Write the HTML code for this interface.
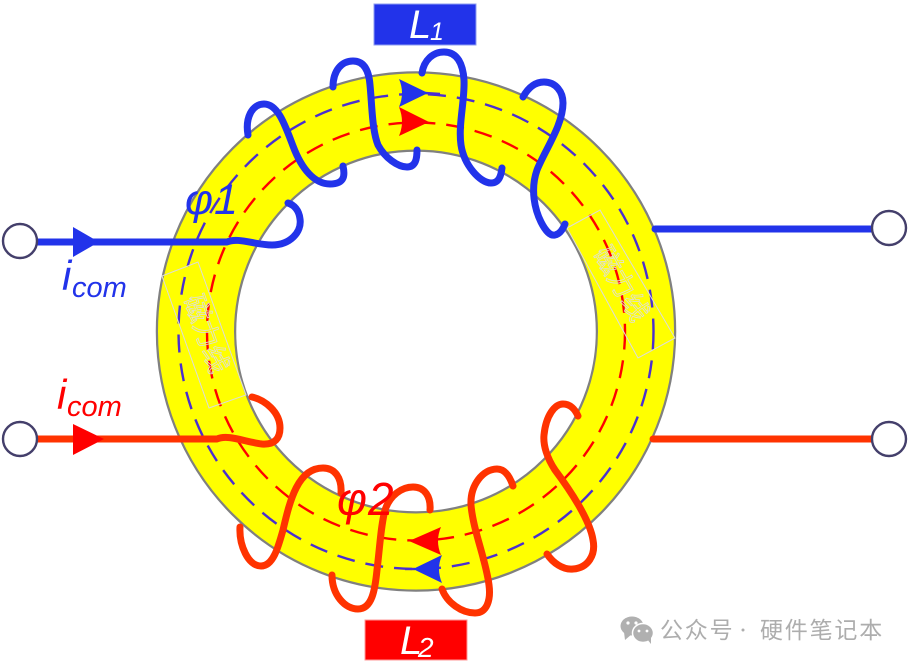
<!DOCTYPE html>
<html><head><meta charset="utf-8"><style>html,body{margin:0;padding:0;background:#fff}svg{display:block}</style></head><body>
<svg xmlns="http://www.w3.org/2000/svg" width="912" height="665" viewBox="0 0 912 665">
<circle cx="416" cy="331.5" r="220" fill="none" stroke="#808080" stroke-width="80.5"/>
<circle cx="416" cy="331.5" r="220" fill="none" stroke="#ffff00" stroke-width="76"/>
<circle cx="416" cy="331.5" r="237.5" fill="none" stroke="#4a2fd0" stroke-width="2.4" stroke-dasharray="18 11"/>
<circle cx="416" cy="331.5" r="209" fill="none" stroke="#ff0000" stroke-width="2.4" stroke-dasharray="18 11"/>
<g fill="none" stroke="#dcdcdc" stroke-width="1">
<polygon points="162,276 198,262 246,395 209,408"/>
<polygon points="567,228 600,210 675,338 638,358"/>
</g>
<g font-family="'Liberation Sans','Noto Sans CJK SC',sans-serif" font-size="27" fill="none" stroke="#dedede" stroke-width=".8" text-anchor="middle">
<text transform="translate(206,334) rotate(70)" y="9">磁力线</text>
<text transform="translate(621,284) rotate(60)" y="9">磁力线</text>
</g>
<g stroke-width="2.4" fill="none">
<path d="M425,93 L440,94" stroke="#4a2fd0"/>
<path d="M415,569 L405,569" stroke="#4a2fd0"/>
</g>
<g fill="#2233ea">
<path d="M399,79 L428,93 L399,107 Q405,93 399,79Z"/>
<path d="M442,555 L413,569 L442,583 Q436,569 442,555Z"/>
</g>
<g fill="#ff0000">
<path d="M399,107 L429,122 L399,136 Q405,122 399,107Z"/>
<path d="M441,527 L409,541 L441,555 Q435,541 441,527Z"/>
</g>
<g fill="none" stroke="#2233ea" stroke-width="7" stroke-linecap="round" stroke-linejoin="round">
<path d="M38,242 L227,242 C238,237 255,245 272,245 C290,245 302,232 300,219 C299,210 294,205 288,203"/>
<path d="M248,135 C245,118 252,104 264,104 C278,104 285,125 293,146 C302,170 315,184 330,184 C345,184 345,175 343,166"/>
<path d="M333,87 C333,70 342,61 353,61 C365,61 369,72 370,85 C372,105 372,130 378,145 C385,158 398,167 407,167 C416,167 417,158 417,150"/>
<path d="M422,73 C424,60 433,52 444,52 C458,52 463,65 464,80 C465,100 458,125 461,145 C464,165 480,183 491,183 C499,183 501,176 502,168"/>
<path d="M523,97 C528,88 535,82 544,82 C556,82 563,92 563,103 C563,125 545,150 537,170 C530,190 535,210 541,222 C546,232 551,236 555,235 C560,234 563,229 565,224"/>
<path d="M655,229 L873,229"/>
</g>
<g fill="none" stroke="#ff3300" stroke-width="7" stroke-linecap="round" stroke-linejoin="round">
<path d="M38,439 L217,439 C228,434 245,442 262,444 C275,445 280,438 280,428 C280,412 265,400 252,397"/>
<path d="M240,527 C239,545 248,566 261,566 C273,566 278,548 283,530 C290,500 298,468 323,468 C335,468 342,478 341,493"/>
<path d="M332,575 C332,595 345,609 358,609 C372,609 375,590 377,570 C380,545 381,525 385,510 C390,495 402,487 413,487 C425,487 431,497 430,510"/>
<path d="M442,589 C447,603 462,613 475,613 C487,613 491,600 489,585 C486,560 473,530 471,505 C470,485 483,469 497,469 C505,469 510,477 513,486"/>
<path d="M547,554 C553,563 563,570 573,569 C588,568 596,555 593,540 C590,520 570,490 555,470 C547,458 543,445 544,435 C546,415 555,404 563,404 C570,404 575,409 578,416"/>
<path d="M653,439 L873,439"/>
</g>
<polygon points="73,227 99,242 73,257" fill="#2233ea"/>
<polygon points="73,424 104,439 73,455" fill="#ff0000"/>
<g fill="#fff" stroke="#443f6b" stroke-width="2.4">
<circle cx="20" cy="241" r="17"/><circle cx="20" cy="439" r="17"/>
<circle cx="889" cy="228" r="17"/><circle cx="889" cy="439" r="17"/>
</g>
<rect x="374" y="4" width="102" height="41" fill="#2233ea" stroke="#8f9cf0" stroke-width="1"/>
<rect x="365" y="620" width="102" height="40" fill="#ff0000" stroke="#ff9a9a" stroke-width="1"/>
<g font-family="'Liberation Sans',sans-serif" font-style="italic">
<text x="409" y="38" font-size="40" fill="#fff">L</text>
<text x="430" y="40" font-size="25" fill="#fff">1</text>
<text x="400" y="654" font-size="40" fill="#fff">L</text>
<text x="418" y="657" font-size="28" fill="#fff">2</text>
<text x="185" y="214" font-size="43" fill="#2233ea" letter-spacing="1">φ1</text>
<text x="337" y="515" font-size="46" fill="#ff0000" letter-spacing="1">φ2</text>
<text x="62" y="290" font-size="42" fill="#2233ea">i</text>
<text x="72" y="297" font-size="29" fill="#2233ea">com</text>
<text x="57" y="409" font-size="42" fill="#ff0000">i</text>
<text x="67" y="416" font-size="29" fill="#ff0000">com</text>
</g>
<ellipse cx="632" cy="626" rx="11.5" ry="9.5" fill="#b0b0b0"/>
<polygon points="624,632 625,640 632,634" fill="#b0b0b0"/>
<ellipse cx="643" cy="633" rx="10.5" ry="9.5" fill="#b0b0b0" stroke="#fff" stroke-width="1.5"/>
<polygon points="647,639 651,644 651,636" fill="#b0b0b0"/>
<g fill="#fff"><circle cx="628" cy="623" r="1.6"/><circle cx="636" cy="623" r="1.6"/><circle cx="639" cy="631" r="1.4"/><circle cx="647" cy="631" r="1.4"/></g>
<g font-family="'Noto Sans CJK SC',sans-serif" font-size="23" fill="#adadad" letter-spacing="1.8">
<text x="660" y="638">公众号</text>
<text x="760" y="638">硬件笔记本</text>
</g>
<circle cx="743" cy="630" r="1.5" fill="#adadad"/>
</svg>
</body></html>
